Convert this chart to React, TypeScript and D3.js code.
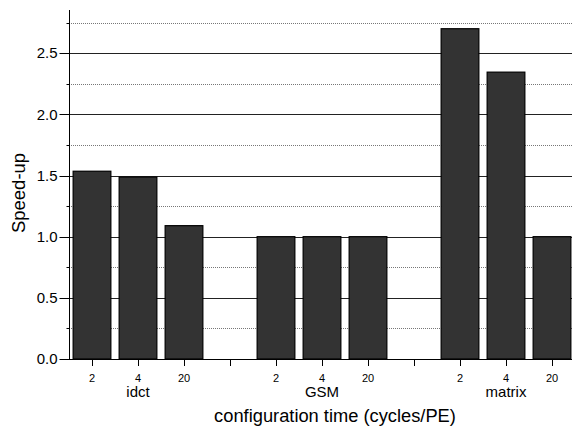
import React, { useEffect, useRef } from 'react';
import * as d3 from 'd3';

// benchmark groups and configuration times
const groups = ['idct', 'GSM', 'matrix'];
const configTimes = ['2', '4', '20'];
// speed-up per group, in configTimes order
const idctValues = [1.535, 1.487, 1.09];
const gsmValues = [1.0, 1.0, 1.0];
const matrixValues = [2.70, 2.345, 1.0];
const yMajorTicks = [0, 0.5, 1.0, 1.5, 2.0, 2.5];
const yMinorTicks = [0.25, 0.75, 1.25, 1.75, 2.25, 2.75];

const App = () => {
  const svgRef = useRef(null);

  useEffect(() => {
    const width = 572;
    const height = 431;
    const margin = { top: 10, right: 0, bottom: 72, left: 69 };
    const innerHeight = height - margin.top - margin.bottom;

    const svg = d3.select(svgRef.current);
    svg.selectAll('*').remove();
    svg.attr('width', width).attr('height', height);

    // build slots: 3 per group, with an empty gap slot in between
    const allValues = [idctValues, gsmValues, matrixValues];
    const slots = [];
    groups.forEach((g, gi) => {
      configTimes.forEach((t, ti) => {
        slots.push({ key: `${g}-${t}`, group: g, time: t, value: allValues[gi][ti], middle: ti === 1 });
      });
      if (gi < groups.length - 1) slots.push({ key: `gap-${gi}`, gap: true });
    });

    const x = d3.scaleBand()
      .domain(slots.map(s => s.key))
      .range([margin.left, width + 3])
      .paddingInner(0.18)
      .paddingOuter(0.09);

    const y = d3.scaleLinear()
      .domain([0, 2.853])
      .range([margin.top + innerHeight, margin.top]);

    const font = '"Liberation Sans", Arial, Helvetica, sans-serif';
    const g = svg.append('g').attr('font-family', font);

    // dotted minor gridlines
    g.selectAll('line.minor')
      .data(yMinorTicks)
      .enter().append('line')
      .attr('x1', margin.left + 2).attr('x2', width)
      .attr('y1', d => Math.round(y(d)) + 0.5).attr('y2', d => Math.round(y(d)) + 0.5)
      .attr('stroke', '#777').attr('stroke-width', 1)
      .attr('stroke-dasharray', '1,1');

    // solid major gridlines
    g.selectAll('line.major')
      .data(yMajorTicks.filter(d => d > 0))
      .enter().append('line')
      .attr('x1', margin.left).attr('x2', width)
      .attr('y1', d => Math.round(y(d)) + 0.5).attr('y2', d => Math.round(y(d)) + 0.5)
      .attr('stroke', '#222').attr('stroke-width', 1);

    // bars
    g.selectAll('rect.bar')
      .data(slots.filter(s => !s.gap))
      .enter().append('rect')
      .attr('x', d => x(d.key))
      .attr('y', d => y(d.value))
      .attr('width', x.bandwidth())
      .attr('height', d => y(0) - y(d.value))
      .attr('fill', '#333')
      .attr('stroke', '#000')
      .attr('stroke-width', 1.2);

    // y axis line and ticks
    const axisX = margin.left + 0.5;
    g.append('line')
      .attr('x1', axisX).attr('x2', axisX)
      .attr('y1', margin.top).attr('y2', y(0))
      .attr('stroke', '#000');
    g.selectAll('line.ytick')
      .data(yMajorTicks)
      .enter().append('line')
      .attr('x1', axisX - 10).attr('x2', axisX)
      .attr('y1', d => Math.round(y(d)) + 0.5).attr('y2', d => Math.round(y(d)) + 0.5)
      .attr('stroke', '#000');
    g.selectAll('line.yminor')
      .data(yMinorTicks)
      .enter().append('line')
      .attr('x1', axisX - 3).attr('x2', axisX)
      .attr('y1', d => Math.round(y(d)) + 0.5).attr('y2', d => Math.round(y(d)) + 0.5)
      .attr('stroke', '#000');
    g.selectAll('text.ylabel')
      .data(yMajorTicks)
      .enter().append('text')
      .attr('x', axisX - 12)
      .attr('y', d => y(d))
      .attr('dy', '0.35em')
      .attr('text-anchor', 'end')
      .attr('font-size', 15)
      .text(d => d.toFixed(1));

    // x axis baseline
    g.append('line')
      .attr('x1', margin.left).attr('x2', width)
      .attr('y1', Math.round(y(0)) + 0.5).attr('y2', Math.round(y(0)) + 0.5)
      .attr('stroke', '#000');

    // x ticks at every slot (including gaps)
    g.selectAll('line.xtick')
      .data(slots)
      .enter().append('line')
      .attr('x1', d => Math.round(x(d.key) + x.bandwidth() / 2) + 0.5)
      .attr('x2', d => Math.round(x(d.key) + x.bandwidth() / 2) + 0.5)
      .attr('y1', y(0)).attr('y2', y(0) + 7)
      .attr('stroke', '#000');

    g.selectAll('text.xlabel')
      .data(slots.filter(s => !s.gap))
      .enter().append('text')
      .attr('x', d => x(d.key) + x.bandwidth() / 2)
      .attr('y', y(0) + 23)
      .attr('text-anchor', 'middle')
      .attr('font-size', 11)
      .text(d => d.time);

    g.selectAll('text.group')
      .data(slots.filter(s => s.middle))
      .enter().append('text')
      .attr('x', d => x(d.key) + x.bandwidth() / 2)
      .attr('y', y(0) + 38)
      .attr('text-anchor', 'middle')
      .attr('font-size', 15)
      .text(d => d.group);

    // axis titles
    g.append('text')
      .attr('x', 335)
      .attr('y', 422)
      .attr('text-anchor', 'middle')
      .attr('font-size', 18.3)
      .text('configuration time (cycles/PE)');

    g.append('text')
      .attr('transform', `translate(25, 193) rotate(-90)`)
      .attr('text-anchor', 'middle')
      .attr('font-size', 18.5)
      .text('Speed-up');
  }, []);

  return (
    <div style={{ position: 'absolute', left: 0, top: 0 }}>
      <svg ref={svgRef} style={{ display: 'block', background: 'white' }} />
    </div>
  );
};

export default App;
